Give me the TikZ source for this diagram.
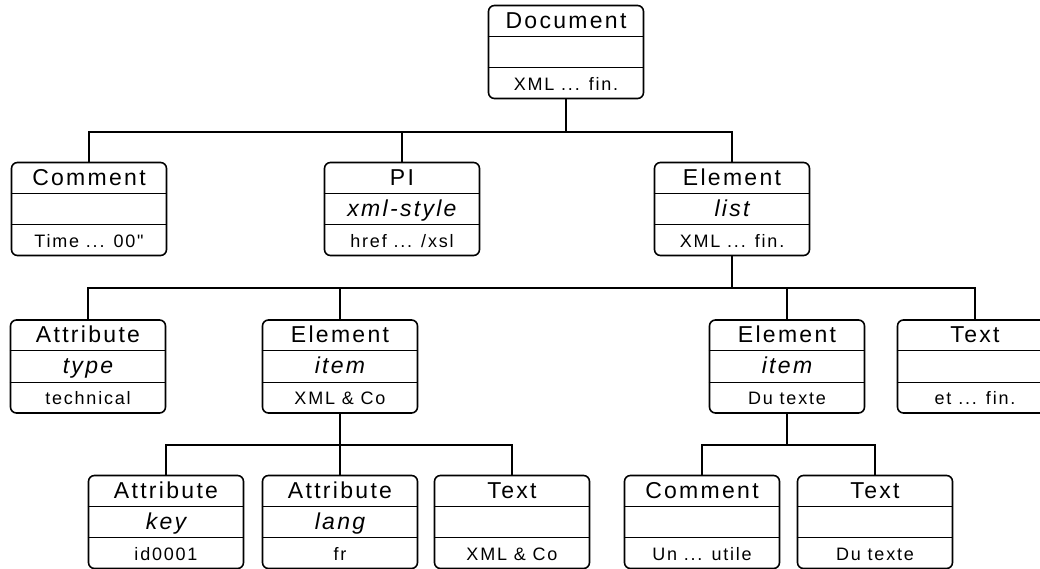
\documentclass[tikz,border=0pt]{standalone}
\usepackage{fontspec}
\setmainfont{Liberation Sans}[LetterSpace=10, Ligatures=TeXOff]
\usetikzlibrary{calc}

\tikzset{
  boxframe/.style={draw, line width=1.6pt, rounded corners=6pt,
    minimum width=155pt, minimum height=93pt, inner sep=0pt},
  divider/.style={line width=1.3pt},
  link/.style={line width=1.3pt},
  titletext/.style={anchor=base, inner sep=0pt, font=\fontsize{23}{23}\selectfont},
  subtext/.style={anchor=base, inner sep=0pt, font=\fontsize{23}{23}\selectfont\itshape},
  valtext/.style={anchor=base, inner sep=0pt, font=\fontsize{18}{18}\selectfont},
}

% three-row record: name, centre x, centre y, title, subtitle, value
\newcommand\recbox[6]{%
  \node[boxframe] (#1) at (#2,#3) {};
  \draw[divider] ($(#1.north west)!1/3!(#1.south west)$) -- ($(#1.north east)!1/3!(#1.south east)$);
  \draw[divider] ($(#1.north west)!2/3!(#1.south west)$) -- ($(#1.north east)!2/3!(#1.south east)$);
  \node[titletext] (#1-t) at ($(#1.north)+(0,23.5)$) {#4};
  \node[subtext] (#1-s) at ($(#1.north)+(0,54.5)$) {#5};
  \node[valtext] (#1-v) at ($(#1.north)+(0,85.5)$) {#6};
}

\begin{document}
\begin{tikzpicture}[x=1pt, y=-1pt]
  \useasboundingbox (0,0) rectangle (1040,569);
  \clip (0,0) rectangle (1040,569);

  % level 0
  \recbox{doc}{566}{52}{Document}{}{XML ... fin.}

  % level 1
  \recbox{com1}{89}{209}{Comment}{}{Time ... 00"}
  \recbox{pi}{402}{209}{PI}{xml-style}{href ... /xsl}
  \recbox{list}{732}{209}{Element}{list}{XML ... fin.}

  % level 2
  \recbox{attype}{88}{366.5}{Attribute}{type}{technical}
  \recbox{itemA}{340}{366.5}{Element}{item}{XML \& Co}
  \recbox{itemB}{787}{366.5}{Element}{item}{Du texte}
  \recbox{txtA}{975}{366.5}{Text}{}{et ... fin.}

  % level 3
  \recbox{atkey}{166}{522}{Attribute}{key}{id0001}
  \recbox{atlang}{340}{522}{Attribute}{lang}{fr}
  \recbox{txtB}{512}{522}{Text}{}{XML \& Co}
  \recbox{com2}{702}{522}{Comment}{}{Un ... utile}
  \recbox{txtC}{875}{522}{Text}{}{Du texte}

  % bus points
  \coordinate (bus0) at (566,132);
  \coordinate (bus1) at (732,288);
  \coordinate (bus2) at (340,445);
  \coordinate (bus3) at (787,445);

  % connectors
  \draw[link] (doc.south) -- (bus0);
  \draw[link] (com1.north) |- (bus0);
  \draw[link] (pi.north) |- (bus0);
  \draw[link] (list.north) |- (bus0);

  \draw[link] (list.south) -- (bus1);
  \draw[link] (attype.north) |- (bus1);
  \draw[link] (itemA.north) |- (bus1);
  \draw[link] (itemB.north) |- (bus1);
  \draw[link] (txtA.north) |- (bus1);

  \draw[link] (itemA.south) -- (bus2);
  \draw[link] (atkey.north) |- (bus2);
  \draw[link] (atlang.north) |- (bus2);
  \draw[link] (txtB.north) |- (bus2);

  \draw[link] (itemB.south) -- (bus3);
  \draw[link] (com2.north) |- (bus3);
  \draw[link] (txtC.north) |- (bus3);
\end{tikzpicture}
\end{document}
